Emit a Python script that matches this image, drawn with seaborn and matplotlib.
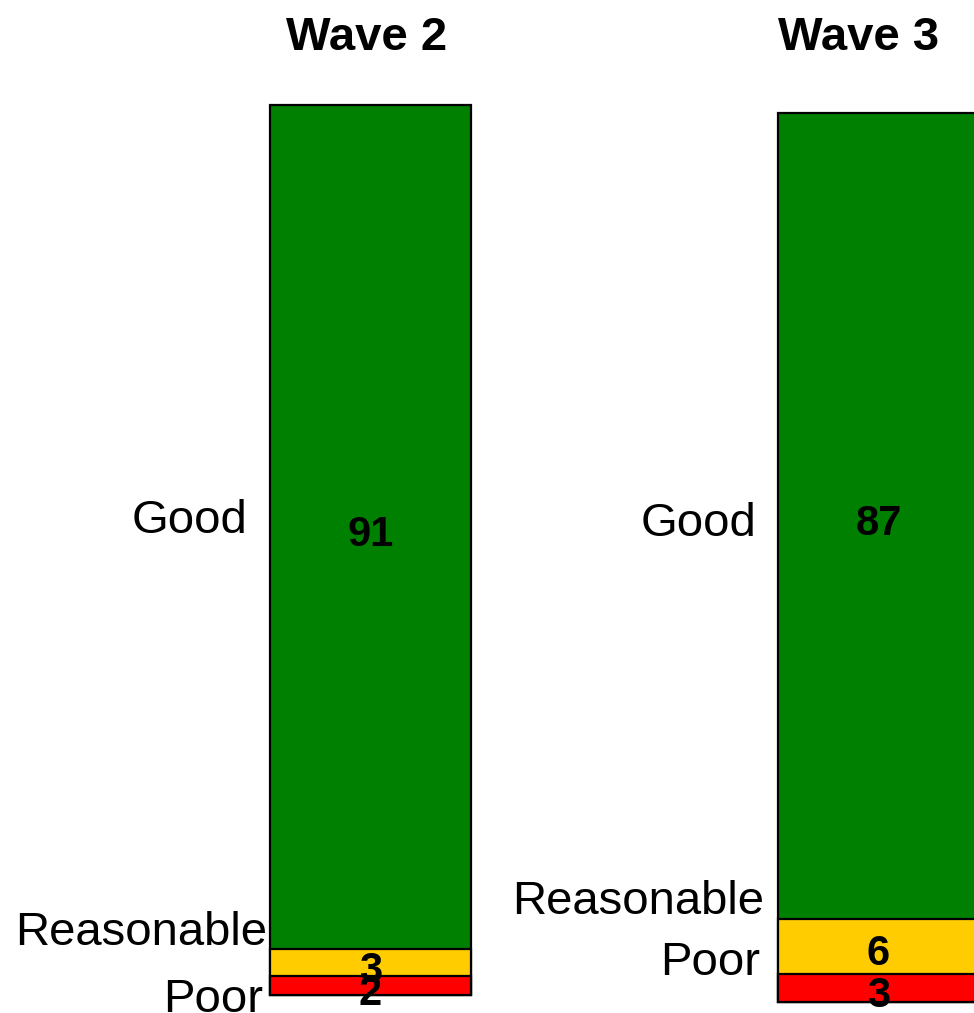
import matplotlib
matplotlib.use("Agg")
import matplotlib.pyplot as plt
import seaborn as sns
import numpy as np

# Survey ratings per wave (percent)
waves = ["Wave 2", "Wave 3"]
categories = ["Poor", "Reasonable", "Good"]
poor = [2, 3]
reasonable = [3, 6]
good = [91, 87]

colors = {"Poor": "#FF0000", "Reasonable": "#FFCC00", "Good": "#008000"}

sns.set_theme(style="white")
plt.rcParams["font.family"] = ["Liberation Sans", "DejaVu Sans"]

W, H = 974, 1013
fig = plt.figure(figsize=(W / 100, H / 100), dpi=100)

# Panel placement in pixels: left, bottom (from top), bar width, bar height
panels = [
    dict(left=270, bottom=995, width=201, height=890, title_x=367),
    dict(left=778, bottom=1002, width=201, height=889, title_x=859),
]

# Category label placement: (data y, pixel gap to bar's left edge)
label_pos = [
    {"Good": (51.7, 23), "Reasonable": (7.2, 3), "Poor": (0.0, 7)},
    {"Good": (52.2, 22), "Reasonable": (11.3, 14), "Poor": (4.7, 18)},
]

for i, wave in enumerate(waves):
    p = panels[i]
    ax = fig.add_axes([p["left"] / W, (H - p["bottom"]) / H,
                       p["width"] / W, p["height"] / H])
    vals = {"Poor": poor[i], "Reasonable": reasonable[i], "Good": good[i]}
    total = sum(vals.values())
    cum = np.cumsum([vals[c] for c in categories])

    # stacked bar drawn as overlapping cumulative layers, tallest first
    for c, top in reversed(list(zip(categories, cum))):
        sns.barplot(x=[wave], y=[top], color=colors[c], width=1.0,
                    edgecolor="black", linewidth=1.6, saturation=1,
                    ax=ax)
    for patch in ax.patches:
        patch.set_clip_on(False)
    ax.set_xlim(-0.5, 0.5)
    ax.set_ylim(0, total)
    ax.axis("off")

    # segment values
    lower = 0
    for c, top in zip(categories, cum):
        mid = (lower + top) / 2
        ax.annotate(f"{vals[c]}", xy=(0, mid), xytext=(0, -2.5),
                    textcoords="offset points", ha="center",
                    va="center_baseline", fontsize=30, fontweight="bold",
                    color="black", annotation_clip=False)
        lower = top

    # category labels to the left of the bar
    for c in categories:
        y, gap = label_pos[i][c]
        ax.annotate(c, xy=(0, y), xycoords=("axes fraction", "data"),
                    xytext=(-gap * 0.72, 0), textcoords="offset points",
                    ha="right", va="center_baseline", fontsize=34,
                    color="black", annotation_clip=False)

    fig.text(p["title_x"] / W, 1 - 38 / H, wave, ha="center", va="center",
             fontsize=34, fontweight="bold", color="black")

fig.savefig("out.png", dpi=100)
